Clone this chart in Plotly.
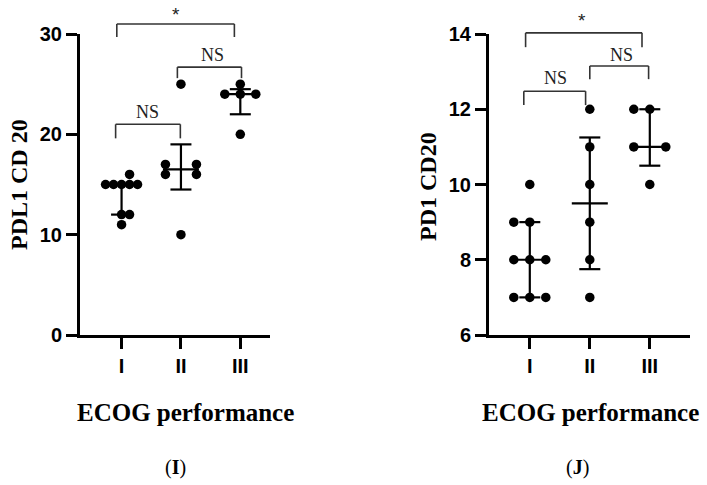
import numpy as np
import plotly.graph_objects as go

# ---------------- data ----------------
categories = ["I", "II", "III"]

pdl1_I = [16, 15, 15, 15, 15, 15, 12, 12, 11]
pdl1_II = [25, 17, 17, 16, 16, 10]
pdl1_III = [25, 24, 24, 24, 20]

pd1_I = [10, 9, 9, 8, 8, 8, 7, 7, 7]
pd1_II = [12, 11, 10, 9, 8, 7]
pd1_III = [12, 12, 11, 11, 10]

left_ticks = [0, 10, 20, 30]
right_ticks = [6, 8, 10, 12, 14]

# scatter (beeswarm) layout offsets in pixels, separate from data
pdl1_off = [[8, -16, -8, 0, 8, 16, 0, 8, 0],
            [0, -15.5, 15.5, -15.5, 15.5, 0],
            [0, -15.5, 0, 15.5, 0]]
pd1_off = [[0, -16, 0, -16, 0, 16, -16, 0, 16],
           [0, 0, 0, 0, 0, 0],
           [-16, 0, -16, 16, 0]]

# ---------------- layout geometry ----------------
W, H = 707, 485
Lx = [80, 270]      # left plot px
Rx = [489, 690]     # right plot px
Ytop, Ybot = 34, 335
L_xrange = [-0.7, 2.5]
R_xrange = [-0.68, 2.67]
L_yrange = [0, 30]
R_yrange = [6, 14]

def ppc(px, rng):
    return (px[1] - px[0]) / (rng[1] - rng[0])

fig = go.Figure()

def add_panel(groups, offs, xa, ya, px, xr):
    k = ppc(px, xr)
    for i, (vals, off) in enumerate(zip(groups, offs)):
        xs = [i + o / k for o in off]
        fig.add_trace(go.Scatter(
            x=xs, y=vals, mode="markers", xaxis=xa, yaxis=ya,
            marker=dict(size=9.5, color="black"), cliponaxis=False,
            showlegend=False, hoverinfo="y"))
        q1, med, q3 = np.percentile(vals, [25, 50, 75], method="weibull")
        cap = 10.5 / k
        mw = 18 / k
        lx = [i, i, None, i - cap, i + cap, None, i - cap, i + cap, None, i - mw, i + mw]
        ly = [q1, q3, None, q1, q1, None, q3, q3, None, med, med]
        fig.add_trace(go.Scatter(
            x=lx, y=ly, mode="lines", xaxis=xa, yaxis=ya,
            line=dict(color="black", width=2.2), showlegend=False,
            hoverinfo="skip", cliponaxis=False))

add_panel([pdl1_I, pdl1_II, pdl1_III], pdl1_off, "x", "y", Lx, L_xrange)
add_panel([pd1_I, pd1_II, pd1_III], pd1_off, "x2", "y2", Rx, R_xrange)

tickfont = dict(family="Liberation Sans, Arial, sans-serif", size=20, color="black",
                weight="bold")
common_ax = dict(showline=True, linewidth=3, linecolor="black", ticks="outside",
                 ticklen=11, tickwidth=3, tickcolor="black", showgrid=False,
                 zeroline=False, tickfont=tickfont, fixedrange=True, automargin=False)

ydom = [1 - Ybot / H, 1 - Ytop / H]
fig.update_layout(
    width=W, height=H, autosize=False,
    margin=dict(l=0, r=0, t=0, b=0, pad=0),
    paper_bgcolor="white", plot_bgcolor="white",
    xaxis=dict(domain=[Lx[0] / W, Lx[1] / W], range=L_xrange, anchor="y",
               tickvals=[0, 1, 2], ticktext=categories, **common_ax),
    yaxis=dict(domain=ydom, range=L_yrange, anchor="x", tickvals=left_ticks, **common_ax),
    xaxis2=dict(domain=[Rx[0] / W, Rx[1] / W], range=R_xrange, anchor="y2",
                tickvals=[0, 1, 2], ticktext=categories, **common_ax),
    yaxis2=dict(domain=ydom, range=R_yrange, anchor="x2", tickvals=right_ticks, **common_ax),
)

# ---------------- significance brackets ----------------
def fx(v, rng):
    return (v - rng[0]) / (rng[1] - rng[0])

shapes = []
annotations = []

def bracket(xa, ya, xr, yr, x0, x1, ytop, yleg, label, tx, ty, star=False):
    xref, yref = xa + " domain", ya + " domain"
    X0, X1 = fx(x0, xr), fx(x1, xr)
    YT, YL = fx(ytop, yr), fx(yleg, yr)
    ln = dict(color="#333333", width=1.6)
    for (a, b, c, d) in [(X0, YL, X0, YT), (X0, YT, X1, YT), (X1, YT, X1, YL)]:
        shapes.append(dict(type="line", xref=xref, yref=yref, x0=a, y0=b, x1=c, y1=d, line=ln))
    font = (dict(family="Liberation Sans, Arial", size=19, color="#222222") if star
            else dict(family="Liberation Serif, Times New Roman, serif", size=18, color="#222222"))
    annotations.append(dict(xref=xref, yref=yref, x=fx(tx, xr), y=fx(ty, yr), text=label,
                            showarrow=False, font=font, xanchor="center", yanchor="middle"))

# left panel
bracket("x", "y", L_xrange, L_yrange, -0.08, 1.9, 31.0, 29.7, "*", 0.92, 31.9, star=True)
bracket("x", "y", L_xrange, L_yrange, 0.94, 2.02, 26.7, 25.6, "NS", 1.53, 27.9)
bracket("x", "y", L_xrange, L_yrange, -0.1, 0.99, 21.0, 19.6, "NS", 0.44, 22.2)
# right panel
bracket("x2", "y2", R_xrange, R_yrange, -0.07, 1.87, 14.03, 13.65, "*", 0.87, 14.37, star=True)
bracket("x2", "y2", R_xrange, R_yrange, 1.0, 1.98, 13.15, 12.8, "NS", 1.52, 13.44)
bracket("x2", "y2", R_xrange, R_yrange, -0.1, 0.93, 12.48, 12.11, "NS", 0.43, 12.83)

# ---------------- titles ----------------
serif_b = dict(family="Liberation Serif, Times New Roman, serif", size=24, color="black")
annotations += [
    dict(xref="paper", yref="paper", x=19 / W, y=1 - 185 / H, text="<b>PDL1 CD 20</b>",
         textangle=-90, showarrow=False, font=serif_b, xanchor="center", yanchor="middle"),
    dict(xref="paper", yref="paper", x=428 / W, y=1 - 187 / H, text="<b>PD1 CD20</b>",
         textangle=-90, showarrow=False, font=serif_b, xanchor="center", yanchor="middle"),
    dict(xref="paper", yref="paper", x=185 / W, y=1 - 412 / H, text="<b>ECOG performance</b>",
         showarrow=False, font=dict(family="Liberation Serif, Times New Roman, serif", size=25, color="black"),
         xanchor="center", yanchor="middle"),
    dict(xref="paper", yref="paper", x=590 / W, y=1 - 412 / H, text="<b>ECOG performance</b>",
         showarrow=False, font=dict(family="Liberation Serif, Times New Roman, serif", size=25, color="black"),
         xanchor="center", yanchor="middle"),
    dict(xref="paper", yref="paper", x=175 / W, y=1 - 467 / H, text="(<b>I</b>)",
         showarrow=False, font=dict(family="Liberation Serif, Times New Roman, serif", size=20, color="black"),
         xanchor="center", yanchor="middle"),
    dict(xref="paper", yref="paper", x=577 / W, y=1 - 467 / H, text="(<b>J</b>)",
         showarrow=False, font=dict(family="Liberation Serif, Times New Roman, serif", size=20, color="black"),
         xanchor="center", yanchor="middle"),
]

fig.update_layout(shapes=shapes, annotations=annotations)
fig.write_html("out.html", config={"displayModeBar": False},
               post_script="document.body.style.margin='0px';document.body.style.overflow='hidden';")
